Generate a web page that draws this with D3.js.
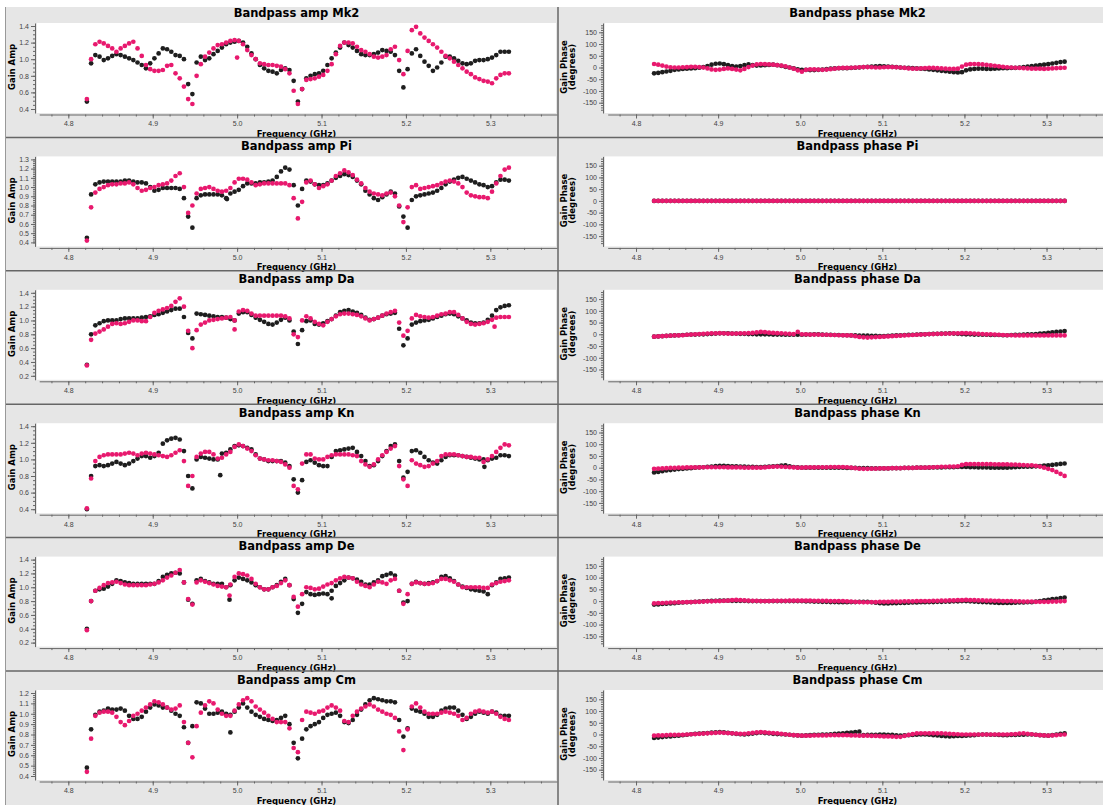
<!DOCTYPE html>
<html>
<head>
<meta charset="utf-8">
<script src="https://cdn.jsdelivr.net/npm/d3@7"></script>
<style>
  body { margin: 0; background: #fff; }
  svg { display: block; font-family: "DejaVu Sans", sans-serif; }
  .tick text { fill: #444; font-size: 7px; }
  .domain, .tick line { stroke: #666; }
</style>
</head>
<body>
<svg id="chart" width="1103" height="805"></svg>
<script>
// Channel grid (GHz)
const chanStart = 4.822;
const chanStep = 0.005;
const freqTicks = [4.8, 4.9, 5.0, 5.1, 5.2, 5.3];
const phaseTicks = [-150, -100, -50, 0, 50, 100, 150];

const antennas = ["Mk2", "Pi", "Da", "Kn", "De", "Cm"];
const ampTicksMk2 = [0.4, 0.6, 0.8, 1.0, 1.2, 1.4];
const ampTicksPi = [0.4, 0.5, 0.6, 0.7, 0.8, 0.9, 1.0, 1.1, 1.2, 1.3];
const ampTicksDa = [0.2, 0.4, 0.6, 0.8, 1.0, 1.2, 1.4];
const ampTicksKn = [0.4, 0.6, 0.8, 1.0, 1.2, 1.4];
const ampTicksDe = [0.2, 0.4, 0.6, 0.8, 1.0, 1.2, 1.4];
const ampTicksCm = [0.4, 0.5, 0.6, 0.7, 0.8, 0.9, 1.0, 1.1, 1.2];

// Amplitude, one value per channel
const ampMk2Black = [0.49,0.95,1.05,1.03,0.99,1.01,1.04,1.06,1.05,1.03,
 1.01,0.99,0.96,0.93,0.89,0.95,1.01,1.07,1.13,1.12,
 1.09,1.05,1.04,1.00,0.70,0.58,0.96,1.03,0.99,1.01,
 1.06,1.10,1.14,1.18,1.20,1.21,1.22,1.20,1.15,1.07,
 1.00,0.93,0.89,0.86,0.85,0.83,0.87,0.89,0.87,0.74,
 0.49,0.64,0.77,0.80,0.82,0.83,0.86,0.93,1.01,1.08,
 1.14,1.20,1.17,1.14,1.10,1.06,1.05,1.05,1.06,1.08,
 1.11,1.10,1.09,1.05,0.86,0.66,0.88,1.07,1.12,1.04,
 0.97,0.92,0.86,0.90,0.96,1.03,1.03,1.01,0.98,0.95,
 0.94,0.95,0.98,0.99,0.99,1.00,1.02,1.05,1.09,1.09,
 1.09];
const ampMk2Pink = [0.52,1.00,1.18,1.21,1.19,1.16,1.13,1.09,1.13,1.16,
 1.19,1.21,1.13,1.04,0.93,0.88,0.86,0.86,0.87,0.92,
 0.93,0.83,0.77,0.67,0.52,0.46,0.80,0.94,1.03,1.08,
 1.13,1.17,1.18,1.20,1.22,1.23,1.22,1.18,1.11,1.05,
 1.00,0.95,0.94,0.93,0.93,0.92,0.91,0.88,0.83,0.62,
 0.46,0.64,0.75,0.76,0.77,0.79,0.81,0.86,0.94,1.06,
 1.16,1.20,1.20,1.19,1.15,1.11,1.09,1.06,1.03,1.02,
 1.03,1.05,1.12,1.15,0.99,0.82,1.10,1.35,1.39,1.31,
 1.26,1.22,1.18,1.14,1.09,1.04,1.01,0.97,0.93,0.89,
 0.85,0.82,0.78,0.76,0.74,0.73,0.71,0.77,0.81,0.83,
 0.83];
const ampPiBlack = [0.45,0.92,1.03,1.05,1.06,1.06,1.06,1.06,1.06,1.07,
 1.07,1.06,1.05,1.05,1.04,1.00,0.96,0.97,0.99,0.99,
 0.99,0.99,0.98,0.88,0.68,0.56,0.88,0.91,0.92,0.92,
 0.92,0.92,0.91,0.88,0.93,0.95,0.97,1.01,1.04,1.04,
 1.04,1.05,1.05,1.06,1.07,1.11,1.17,1.21,1.19,1.02,
 0.80,0.98,1.07,1.06,1.03,1.02,1.02,1.04,1.07,1.10,
 1.12,1.14,1.13,1.11,1.07,1.03,0.96,0.92,0.88,0.86,
 0.89,0.92,0.95,0.93,0.79,0.68,0.56,0.86,0.90,0.91,
 0.92,0.93,0.94,0.96,0.99,1.03,1.06,1.08,1.10,1.11,
 1.09,1.07,1.05,1.03,1.02,1.00,1.01,1.05,1.08,1.08,
 1.07];
const ampPiPink = [0.42,0.78,0.94,0.98,1.00,1.02,1.03,1.03,1.04,1.04,
 1.05,1.03,0.99,0.96,0.97,0.99,1.00,1.02,1.03,1.04,
 1.07,1.12,1.15,1.00,0.72,0.80,0.93,0.98,0.99,1.00,
 0.98,0.96,0.95,0.96,0.99,1.05,1.09,1.09,1.08,1.05,
 1.02,1.03,1.04,1.04,1.04,1.04,1.04,1.04,1.02,0.88,
 0.66,0.84,1.05,1.07,1.03,0.99,1.01,1.03,1.07,1.12,
 1.15,1.18,1.16,1.13,1.08,1.04,0.99,0.95,0.93,0.92,
 0.91,0.93,0.94,0.90,0.80,0.62,0.78,1.00,1.02,0.98,
 0.99,1.00,1.01,1.02,1.04,1.06,1.07,1.06,1.04,1.00,
 0.94,0.91,0.90,0.89,0.89,0.88,0.95,1.04,1.12,1.19,
 1.21];
const ampDaBlack = [0.36,0.80,0.93,0.96,0.99,1.00,1.00,1.00,1.02,1.03,
 1.03,1.03,1.03,1.04,1.05,1.06,1.08,1.09,1.11,1.13,
 1.15,1.17,1.17,1.05,0.82,0.74,1.10,1.09,1.08,1.07,
 1.06,1.05,1.05,1.04,1.02,1.00,1.10,1.12,1.12,1.08,
 1.04,1.01,0.98,0.95,0.94,0.97,1.01,1.04,1.00,0.84,
 0.66,0.86,0.99,1.00,0.95,0.94,0.96,0.99,1.02,1.07,
 1.12,1.14,1.15,1.13,1.11,1.08,1.04,1.01,1.02,1.04,
 1.07,1.09,1.10,1.11,0.88,0.64,0.74,0.94,0.97,0.99,
 1.00,1.01,1.03,1.05,1.07,1.09,1.10,1.09,1.06,1.03,
 1.00,0.97,0.96,0.96,0.97,1.01,1.07,1.15,1.19,1.21,
 1.22];
const ampDaPink = [0.35,0.72,0.81,0.84,0.87,0.91,0.95,0.96,0.95,0.96,
 0.98,1.00,1.00,0.99,0.99,1.05,1.11,1.14,1.16,1.18,
 1.21,1.27,1.32,1.20,0.85,0.60,0.86,0.94,0.97,1.00,
 1.01,1.02,1.03,1.04,1.05,1.00,1.13,1.15,1.14,1.10,
 1.07,1.07,1.07,1.07,1.07,1.07,1.07,1.06,1.03,0.80,
 0.76,1.00,1.06,1.03,0.98,0.95,0.93,0.98,1.02,1.06,
 1.09,1.10,1.10,1.09,1.08,1.06,1.03,1.00,1.02,1.04,
 1.07,1.10,1.12,1.14,0.97,0.78,0.85,1.03,1.08,1.06,
 1.05,1.04,1.05,1.07,1.09,1.10,1.12,1.12,1.08,1.03,
 0.98,0.95,0.94,0.95,0.96,0.98,1.01,1.04,1.05,1.05,
 1.05];
const ampKnBlack = [0.40,0.80,0.92,0.93,0.92,0.93,0.95,0.97,0.95,0.93,
 0.95,0.98,1.01,1.04,1.04,1.02,1.04,1.08,1.19,1.23,
 1.25,1.26,1.24,1.10,0.80,0.65,1.00,1.03,1.02,1.01,
 1.00,1.00,1.07,1.08,1.12,1.16,1.17,1.16,1.14,1.12,
 1.06,1.01,1.00,0.98,0.98,0.98,0.98,0.96,0.92,0.76,
 0.60,0.75,0.97,0.99,0.96,0.93,0.92,0.92,1.03,1.10,
 1.11,1.12,1.13,1.14,1.09,1.04,0.98,0.92,0.93,0.98,
 1.04,1.10,1.16,1.18,0.98,0.78,0.85,1.10,1.11,1.08,
 1.03,0.99,0.96,0.95,0.99,1.03,1.05,1.05,1.05,1.04,
 1.03,1.02,1.01,1.00,1.00,0.99,1.01,1.02,1.05,1.05,
 1.04];
const ampKnPink = [0.41,0.77,0.98,1.03,1.05,1.06,1.06,1.06,1.06,1.07,
 1.08,1.07,1.05,1.07,1.08,1.07,1.06,1.05,1.04,1.03,
 1.05,1.08,1.11,0.98,0.68,0.80,1.03,1.07,1.09,1.09,
 1.06,1.01,1.02,1.06,1.09,1.15,1.18,1.16,1.13,1.10,
 1.05,1.01,1.00,0.99,0.99,0.98,0.97,0.94,0.90,0.68,
 0.64,0.95,1.06,1.06,1.01,1.00,1.00,1.03,1.05,1.06,
 1.06,1.06,1.06,1.05,1.04,0.98,0.94,0.91,0.94,1.00,
 1.05,1.09,1.13,1.16,0.92,0.76,0.68,0.99,0.95,0.93,
 0.91,0.92,0.95,0.98,1.04,1.06,1.06,1.06,1.05,1.04,
 1.03,1.03,1.02,1.02,0.97,1.00,1.04,1.09,1.14,1.18,
 1.17];
const ampDeBlack = [0.40,0.80,0.95,0.97,0.98,1.01,1.05,1.10,1.09,1.07,
 1.06,1.05,1.05,1.05,1.05,1.05,1.05,1.09,1.15,1.18,
 1.20,1.21,1.20,1.07,0.82,0.76,1.10,1.12,1.09,1.07,
 1.05,1.05,1.05,1.00,1.03,1.10,1.14,1.12,1.10,1.07,
 1.03,1.00,0.97,0.97,1.00,1.03,1.08,1.12,1.03,0.83,
 0.63,0.76,0.93,0.90,0.89,0.90,0.91,0.90,0.95,1.02,
 1.06,1.10,1.14,1.13,1.11,1.08,1.04,1.04,1.07,1.10,
 1.16,1.18,1.20,1.17,0.95,0.78,0.80,1.05,1.08,1.06,
 1.05,1.06,1.07,1.09,1.15,1.16,1.13,1.09,1.04,1.01,
 0.99,0.97,0.96,0.95,0.94,0.90,1.03,1.07,1.12,1.13,
 1.14];
const ampDePink = [0.38,0.80,0.95,0.99,1.03,1.06,1.07,1.08,1.06,1.04,
 1.03,1.03,1.03,1.03,1.03,1.04,1.05,1.07,1.10,1.14,
 1.17,1.21,1.25,1.07,0.83,0.75,1.07,1.10,1.08,1.06,
 1.04,1.02,1.01,1.00,1.04,1.15,1.20,1.19,1.17,1.12,
 1.05,1.00,0.97,0.97,1.00,1.02,1.06,1.10,1.03,0.86,
 0.72,0.90,1.00,0.99,0.97,0.98,1.01,1.04,1.06,1.10,
 1.13,1.15,1.14,1.13,1.08,1.04,1.02,1.00,1.04,1.08,
 1.07,1.05,1.10,1.12,0.95,0.76,0.90,1.05,1.07,1.06,
 1.05,1.05,1.06,1.09,1.12,1.12,1.10,1.08,1.04,1.00,
 1.00,1.00,1.00,1.00,0.99,0.99,1.04,1.06,1.08,1.09,
 1.10];
const ampCmBlack = [0.48,0.85,0.99,1.02,1.03,1.05,1.04,1.04,1.05,1.03,
 0.98,0.95,0.95,0.97,1.02,1.06,1.09,1.08,1.06,1.06,
 1.03,1.00,0.98,0.87,0.72,0.88,1.11,1.10,1.05,1.00,
 1.00,1.01,1.02,1.00,0.99,1.02,1.06,1.10,1.06,1.02,
 0.99,0.97,0.95,0.94,0.93,0.94,0.96,0.98,0.90,0.72,
 0.57,0.76,0.85,0.88,0.90,0.92,0.96,0.99,1.00,1.01,
 0.98,0.92,0.91,0.94,0.99,1.04,1.09,1.13,1.15,1.14,
 1.13,1.12,1.12,1.11,0.94,0.78,0.86,1.05,1.03,1.02,
 1.00,0.97,0.97,0.99,1.03,1.05,1.06,1.06,1.03,0.99,
 0.95,0.97,1.00,1.02,1.01,1.00,1.02,1.01,0.98,0.98,
 0.98];
const ampCmPink = [0.44,0.76,0.98,1.01,1.02,1.02,1.01,0.97,0.92,0.89,
 0.93,0.98,1.00,1.03,1.06,1.09,1.12,1.11,1.09,1.06,
 1.04,1.05,1.08,0.92,0.72,0.58,0.88,1.01,1.08,1.12,
 1.10,1.04,1.00,0.98,0.98,1.03,1.09,1.13,1.15,1.12,
 1.07,1.04,1.01,0.98,0.95,0.92,0.92,0.92,0.86,0.67,
 0.63,0.94,1.02,1.01,1.00,1.02,1.03,1.06,1.08,1.06,
 1.03,0.93,0.92,0.98,1.02,1.05,1.07,1.09,1.07,1.04,
 1.02,1.00,0.99,0.96,0.83,0.65,0.85,1.07,1.10,1.06,
 1.02,1.00,1.00,1.00,1.01,1.02,1.01,1.00,0.98,0.94,
 0.96,1.00,1.02,1.03,1.02,1.01,1.02,1.00,0.97,0.95,
 0.94];

// Single stray amplitude points [freq, amp]
const outMk2Black = [];
const outMk2Pink = [[5.000, 1.02]];
const outPiBlack = [[4.988, 0.87]];
const outPiPink = [];
const outDaBlack = [];
const outDaPink = [[4.997, 0.87], [5.305, 0.91]];
const outKnBlack = [[4.980, 0.81], [5.293, 0.91]];
const outKnPink = [];
const outDeBlack = [[4.991, 0.82], [5.112, 0.84]];
const outDePink = [[4.991, 0.88]];
const outCmBlack = [[4.992, 0.82]];
const outCmPink = [];

// Phase (degrees), one value per channel
const phaseMk2Black = [-25,-23,-20,-17,-14,-10,-8,-6,-5,-4,
 -3,-1,2,6,12,16,17,14,10,6,
 4,6,10,13,10,8,9,10,11,12,
 10,7,3,0,-4,-8,-10,-10,-11,-11,
 -10,-9,-7,-5,-4,-3,-3,-3,-2,-1,
 0,2,3,4,5,6,5,4,3,2,
 0,-1,-2,-3,-4,-5,-6,-8,-10,-12,
 -14,-16,-18,-20,-21,-20,-12,-8,-6,-5,
 -5,-6,-6,-5,-4,-3,-3,-2,-2,0,
 2,4,6,8,10,12,14,17,20,23,
 25];
const phaseMk2Pink = [15,12,8,4,1,0,0,1,2,3,
 3,2,0,-4,-8,-10,-9,-6,-4,-6,
 -9,-12,-6,2,8,13,15,14,13,12,
 10,8,5,0,-5,-12,-18,-10,-8,-8,
 -9,-10,-9,-7,-5,-3,-2,-2,-1,0,
 1,2,2,1,0,0,1,2,2,1,
 0,-2,-4,-5,-5,-4,-3,-2,-2,-3,
 -4,-5,-6,-6,-5,4,12,14,15,14,
 13,11,9,7,5,3,1,0,-1,-2,
 -3,-4,-5,-5,-5,-6,-5,-4,-3,-2,
 -1];
const phasePiBlack = [0,0,0,0,0,0,0,0,0,0, 0,0,0,0,0,0,0,0,0,0,
 0,0,0,0,0,0,0,0,0,0, 0,0,0,0,0,0,0,0,0,0, 0,0,0,0,0,0,0,0,0,0,
 0,0,0,0,0,0,0,0,0,0, 0,0,0,0,0,0,0,0,0,0, 0,0,0,0,0,0,0,0,0,0,
 0,0,0,0,0,0,0,0,0,0, 0,0,0,0,0,0,0,0,0,0, 0];
const phasePiPink = [0,0,0,0,0,0,0,0,0,0, 0,0,0,0,0,0,0,0,0,0,
 0,0,0,0,0,0,0,0,0,0, 0,0,0,0,0,0,0,0,0,0, 0,0,0,0,0,0,0,0,0,0,
 0,0,0,0,0,0,0,0,0,0, 0,0,0,0,0,0,0,0,0,0, 0,0,0,0,0,0,0,0,0,0,
 0,0,0,0,0,0,0,0,0,0, 0,0,0,0,0,0,0,0,0,0, 0];
const phaseDaBlack = [-10,-9,-8,-7,-6,-5,-4,-3,-2,-1,
 -1,0,0,1,2,3,4,4,4,3,
 3,2,2,1,1,0,0,0,0,-1,
 -1,-1,-2,-2,-2,-2,-2,-1,-1,0,
 0,-1,-2,-2,-3,-3,-4,-4,-5,-5,
 -6,-6,-6,-7,-7,-8,-8,-7,-6,-5,
 -4,-3,-2,-2,-1,0,0,1,2,2,
 3,3,4,3,2,1,0,0,-1,-1,
 -2,-2,-3,-3,-3,-4,-4,-3,-2,-2,
 -1,0,0,1,3,4,6,8,10,12,
 14];
const phaseDaPink = [-10,-9,-8,-7,-6,-5,-5,-4,-2,-1,
 0,1,2,3,4,4,5,4,3,3,
 3,4,4,5,6,8,10,9,7,6,
 5,4,3,2,1,10,0,0,-1,-1,
 -1,-2,-2,-3,-3,-4,-4,-5,-5,-8,
 -11,-13,-14,-13,-12,-11,-10,-9,-8,-7,
 -6,-5,-4,-3,-2,-1,0,1,1,2,
 2,3,3,4,4,5,5,4,3,2,
 1,0,0,-1,-2,-3,-4,-4,-5,-5,
 -5,-5,-5,-5,-5,-5,-5,-5,-5,-5,
 -5];
const phaseKnBlack = [-20,-18,-15,-12,-10,-8,-6,-5,-3,-2,
 0,1,2,4,5,7,8,8,7,6,
 6,5,5,4,4,3,3,4,5,6,
 7,9,10,6,3,1,0,0,0,0,
 0,0,0,0,0,0,0,-1,-1,-1,
 -2,-2,-2,-3,-3,-3,-3,-3,-2,-2,
 -2,-1,-1,-1,0,0,0,0,1,1,
 1,2,2,2,3,3,3,2,2,1,
 1,1,0,0,0,0,0,1,2,3,
 4,4,5,6,7,9,10,12,14,16,
 18];
const phaseKnPink = [-5,-4,-3,-2,-1,-1,0,0,1,1,
 1,1,2,2,2,2,2,2,1,1,
 1,1,0,0,0,0,0,1,3,4,
 5,4,3,2,1,0,0,1,1,1,
 2,2,2,3,3,3,3,2,0,-2,
 -4,-5,-5,-4,-4,-3,-3,-3,-2,-2,
 -2,-1,-1,-1,0,0,0,1,2,3,
 4,4,5,5,6,12,15,15,15,15,
 15,15,15,14,14,14,14,13,13,12,
 11,10,10,8,5,0,-5,-10,-18,-26,
 -35];
const phaseDeBlack = [-15,-14,-12,-11,-10,-9,-7,-6,-5,-4,
 -3,-2,-1,0,1,1,2,2,2,1,
 1,1,1,0,0,0,0,0,0,0,
 0,0,0,0,0,0,0,-1,-1,-2,
 -2,-3,-3,-4,-4,-5,-5,-5,-4,-4,
 -3,-3,-3,-5,-7,-9,-10,-10,-9,-9,
 -8,-8,-7,-6,-6,-5,-5,-4,-4,-3,
 -3,-2,-2,-1,-1,0,0,-1,-2,-3,
 -4,-5,-6,-7,-8,-8,-8,-8,-7,-6,
 -6,-5,-5,-2,0,3,5,8,10,13,
 15];
const phaseDePink = [-10,-9,-8,-7,-6,-6,-5,-5,-4,-4,
 -3,-3,-2,-1,-1,0,0,1,2,4,
 5,4,3,2,1,1,0,0,0,1,
 1,1,1,2,2,2,2,2,2,1,
 1,1,1,0,0,0,0,-1,-2,-3,
 -4,-5,-5,-4,-4,-3,-3,-3,-2,-2,
 -2,-1,-1,-1,0,0,0,0,1,1,
 2,2,3,3,4,4,5,4,4,3,
 3,2,2,1,1,0,0,0,-1,-1,
 -2,-2,-2,-3,-3,-3,-3,-2,-2,-1,
 0];
const phaseCmBlack = [-15,-13,-11,-9,-8,-6,-5,-3,-1,1,
 3,4,5,6,8,9,10,9,7,5,
 3,1,0,2,4,6,8,6,5,3,
 2,1,0,-1,-3,-4,-5,-4,-3,-2,
 -1,0,0,1,3,4,5,7,8,10,
 12,-3,-2,-1,-1,0,0,-1,-2,-4,
 -5,-4,-3,-2,-1,0,0,-1,-3,-4,
 -6,-7,-8,-7,-6,-6,-5,-4,-3,-1,
 0,0,-1,-1,-2,-3,-3,-2,-2,-1,
 -1,0,0,-1,-3,-4,-5,-3,0,3,
 5];
const phaseCmPink = [-5,-4,-4,-3,-2,-2,-1,-1,0,1,
 2,3,4,5,6,7,8,7,6,5,
 4,3,3,5,7,9,10,9,7,6,
 5,3,1,-1,-3,-4,-5,-5,-5,-4,
 -4,-4,-4,-3,-3,-3,-3,-3,-4,-4,
 -5,-5,-5,-6,-6,-7,-8,-8,-9,-10,
 -10,-6,-2,2,5,5,5,5,5,5,
 5,4,3,2,1,0,0,0,0,0,
 0,0,0,0,0,0,0,1,2,4,
 5,3,1,-1,-3,-4,-5,-4,-3,-1,
 0];

const blackColor = "#1e1e1e";
const pinkColor = "#e8196e";

// Build the panel list from the named arrays
const ampTicks = [ampTicksMk2, ampTicksPi, ampTicksDa, ampTicksKn, ampTicksDe, ampTicksCm];
const ampBlack = [ampMk2Black, ampPiBlack, ampDaBlack, ampKnBlack, ampDeBlack, ampCmBlack];
const ampPink = [ampMk2Pink, ampPiPink, ampDaPink, ampKnPink, ampDePink, ampCmPink];
const outBlack = [outMk2Black, outPiBlack, outDaBlack, outKnBlack, outDeBlack, outCmBlack];
const outPink = [outMk2Pink, outPiPink, outDaPink, outKnPink, outDePink, outCmPink];
const phaseBlack = [phaseMk2Black, phasePiBlack, phaseDaBlack, phaseKnBlack, phaseDeBlack, phaseCmBlack];
const phasePink = [phaseMk2Pink, phasePiPink, phaseDaPink, phaseKnPink, phaseDePink, phaseCmPink];

const W = 1103, H = 805;
const panelH = 133.4;
const svg = d3.select("#chart");

// Grey page
svg.append("rect").attr("x", 5).attr("y", 7).attr("width", W - 5).attr("height", H - 7).attr("fill", "#e6e6e6");

// Column geometry: plot box, axis line position, x range
const columns = [
    { left: 37, right: 556, axisX: 35, x0: 39.2, x1: 557, ylab: [12] },
    { left: 605, right: 1110, axisX: 603, x0: 607.7, x1: 1111.4, ylab: [564, 572] }
];

function toPoints(values) {
    return values.map((v, i) => ({ f: chanStart + i * chanStep, v: v }));
}

function drawPanel(k, c) {
    const col = columns[c];
    const top = 4 + k * panelH;
    const g = svg.append("g");

    // white plot box
    g.append("rect")
        .attr("x", col.left).attr("y", top + 19)
        .attr("width", col.right - col.left).attr("height", 90)
        .attr("fill", "#fff");

    const x = d3.scaleLinear().domain([4.7655, 5.379]).range([col.x0, col.x1]);

    let y, ticks, minor, fmt;
    if (c === 0) {
        ticks = ampTicks[k];
        y = d3.scaleLinear().domain([ticks[0], ticks[ticks.length - 1]]).range([top + 105, top + 22]);
        const step = ticks[1] - ticks[0];
        const sub = step > 0.15 ? step / 4 : step / 5;
        minor = d3.range(ticks[0], ticks[ticks.length - 1] + 1e-9, sub);
        fmt = d3.format(".1f");
    } else {
        ticks = phaseTicks;
        y = d3.scaleLinear().domain([-150, 150]).range([top + 98.7, top + 28.3]);
        minor = d3.range(-180, 181, 10);
        fmt = d => String(d);
    }

    // axis scale that spans the whole plot box height
    const yAxisScale = y.copy()
        .domain([y.invert(top + 109), y.invert(top + 19)])
        .range([top + 109, top + 19]);

    g.append("g")
        .attr("transform", `translate(${col.axisX},0)`)
        .call(d3.axisLeft(yAxisScale).tickValues(minor).tickSize(2).tickFormat("").tickSizeOuter(0))
        .select(".domain").remove();
    g.append("g")
        .attr("transform", `translate(${col.axisX},0)`)
        .call(d3.axisLeft(yAxisScale).tickValues(ticks).tickFormat(fmt).tickSize(4).tickPadding(2).tickSizeOuter(0));

    // x axis
    const xMinor = d3.range(4.78, 5.37, 0.02);
    g.append("g")
        .attr("transform", `translate(0,${top + 110.5})`)
        .call(d3.axisBottom(x).tickValues(xMinor).tickSize(2).tickFormat("").tickSizeOuter(0))
        .select(".domain").remove();
    g.append("g")
        .attr("transform", `translate(0,${top + 110.5})`)
        .call(d3.axisBottom(x).tickValues(freqTicks).tickFormat(d3.format(".1f")).tickSize(4).tickPadding(3).tickSizeOuter(0));

    const cx = (col.left + col.right) / 2;

    // title and axis titles
    g.append("text")
        .attr("x", cx).attr("y", top + 12.5)
        .attr("text-anchor", "middle")
        .style("font-size", "11.5px").style("font-weight", "bold")
        .text((c === 0 ? "Bandpass amp " : "Bandpass phase ") + antennas[k]);

    g.append("text")
        .attr("x", cx).attr("y", top + 133)
        .attr("text-anchor", "middle")
        .style("font-size", "8.5px").style("font-weight", "bold")
        .text("Frequency (GHz)");

    const ylabels = c === 0 ? ["Gain Amp"] : ["Gain Phase", "(degrees)"];
    ylabels.forEach((t, j) => {
        const lx = col.ylab[j];
        g.append("text")
            .attr("transform", `translate(${lx},${top + 63}) rotate(-90)`)
            .attr("text-anchor", "middle")
            .attr("dominant-baseline", "central")
            .style("font-size", "8.5px").style("font-weight", "bold")
            .text(t);
    });

    // data dots
    const series = c === 0
        ? [[ampBlack[k], outBlack[k], blackColor], [ampPink[k], outPink[k], pinkColor]]
        : [[phaseBlack[k], [], blackColor], [phasePink[k], [], pinkColor]];

    series.forEach(([vals, extra, color]) => {
        const pts = toPoints(vals).concat(extra.map(d => ({ f: d[0], v: d[1] })));
        g.append("g")
            .selectAll("circle")
            .data(pts)
            .join("circle")
            .attr("cx", d => x(d.f))
            .attr("cy", d => y(d.v))
            .attr("r", 2.35)
            .attr("fill", color);
    });
}

for (let k = 0; k < antennas.length; k++) {
    drawPanel(k, 0);
    drawPanel(k, 1);
}

// separator lines on top
for (let k = 1; k < antennas.length; k++) {
    svg.append("line")
        .attr("x1", 5).attr("x2", W)
        .attr("y1", 4 + k * panelH).attr("y2", 4 + k * panelH)
        .attr("stroke", "#666").attr("stroke-width", 1.5);
}
svg.append("line").attr("x1", 558).attr("x2", 558).attr("y1", 7).attr("y2", H)
    .attr("stroke", "#666").attr("stroke-width", 1.5);
svg.append("line").attr("x1", 5.5).attr("x2", 5.5).attr("y1", 7).attr("y2", H)
    .attr("stroke", "#999").attr("stroke-width", 1);
</script>
</body>
</html>
